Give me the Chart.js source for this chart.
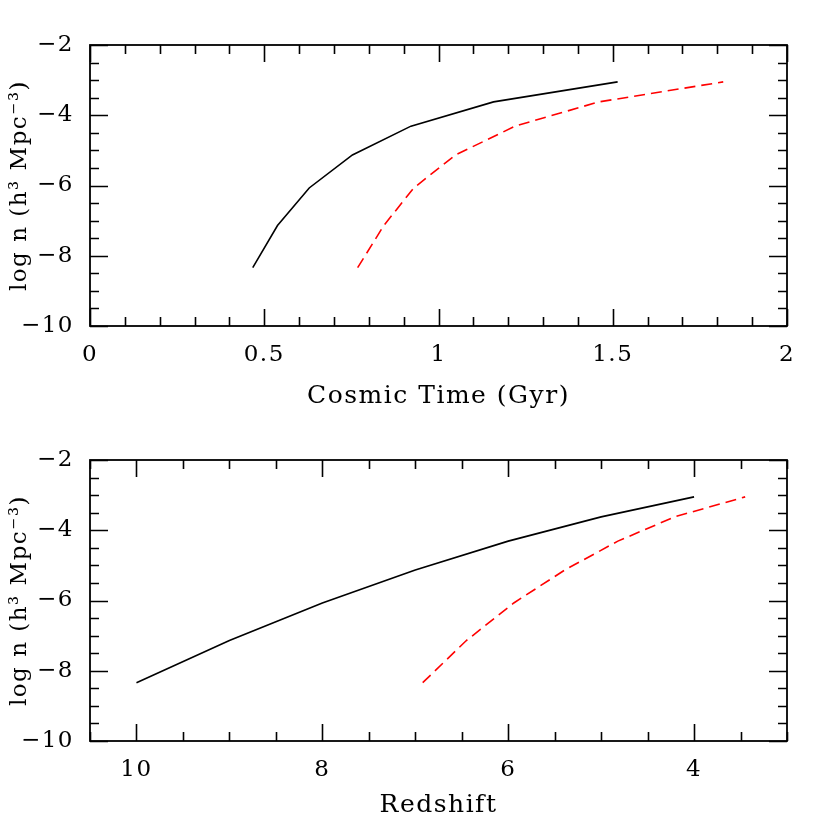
<!DOCTYPE html>
<html>
<head>
<meta charset="utf-8">
<script src="https://cdn.jsdelivr.net/npm/chart.js@4"></script>
<style>
  html, body { margin: 0; padding: 0; background: #fff; }
  .panel { position: absolute; left: 0; width: 830px; height: 415px; }
  #topPanel { top: 0; }
  #bottomPanel { top: 415px; }
</style>
</head>
<body>
<div class="panel" id="topPanel"><canvas id="timeChart" width="830" height="415"></canvas></div>
<div class="panel" id="bottomPanel"><canvas id="redshiftChart" width="830" height="415"></canvas></div>
<script>
// solid black curve
const redshiftSolid = [10, 9, 8, 7, 6, 5, 4];
const timeSolid = [0.467, 0.538, 0.629, 0.753, 0.921, 1.158, 1.514];
const logNSolid = [-8.34, -7.14, -6.07, -5.13, -4.31, -3.62, -3.05];

// dashed red curve
const redshiftDashed = [6.92, 6.45, 5.94, 5.39, 4.82, 4.21, 3.45];
const timeDashed = [0.768, 0.843, 0.929, 1.049, 1.22, 1.46, 1.817];
const logNDashed = [-8.34, -7.14, -6.07, -5.13, -4.31, -3.62, -3.05];

// axis ticks
const timeTicks = [0, 0.5, 1, 1.5, 2];
const redshiftTicks = [10, 8, 6, 4];
const logNTicks = [-10, -8, -6, -4, -2];

const FONT = "'DejaVu Serif', 'Liberation Serif', serif";

document.addEventListener('DOMContentLoaded', () => {
  makePanel('timeChart', {
    xs: [timeSolid, timeDashed],
    xMin: 0, xMax: 2, reverse: false,
    xTicks: timeTicks, xMinor: 0.1,
    xTitle: 'Cosmic Time (Gyr)', xTitlePad: 4
  });
  makePanel('redshiftChart', {
    xs: [redshiftSolid, redshiftDashed],
    xMin: 3, xMax: 10.5, reverse: true,
    xTicks: redshiftTicks, xMinor: 0.5,
    xTitle: 'Redshift', xTitlePad: 10
  });
});

const fmt = (v) => String(v).replace('-', '\u2212');

// the reference lettering is spaced wider than DejaVu
const wideText = {
  id: 'wideText',
  beforeDraw(chart) {
    chart.ctx.letterSpacing = '1.5px';
  }
};

// box frame with inward ticks on all four sides
const frameTicks = {
  id: 'frameTicks',
  afterDraw(chart, args, opts) {
    const { ctx, chartArea: a, scales: { x, y } } = chart;
    ctx.save();
    ctx.strokeStyle = '#000';
    ctx.lineWidth = 1.6;
    ctx.beginPath();

    const lo = Math.min(x.min, x.max), hi = Math.max(x.min, x.max);
    for (let i = Math.ceil(lo / opts.xMinor - 1e-6); i * opts.xMinor <= hi + 1e-6; i++) {
      const v = i * opts.xMinor;
      const major = opts.xTicks.some(t => Math.abs(t - v) < 1e-6);
      const len = major ? 17 : 9;
      const px = Math.round(x.getPixelForValue(v)) + 0.5;
      ctx.moveTo(px, a.bottom); ctx.lineTo(px, a.bottom - len);
      ctx.moveTo(px, a.top); ctx.lineTo(px, a.top + len);
    }
    for (let i = Math.ceil(y.min / 0.5 - 1e-6); i * 0.5 <= y.max + 1e-6; i++) {
      const v = i * 0.5;
      const major = logNTicks.some(t => Math.abs(t - v) < 1e-6);
      const len = major ? 18 : 9;
      const py = Math.round(y.getPixelForValue(v)) + 0.5;
      ctx.moveTo(a.left, py); ctx.lineTo(a.left + len, py);
      ctx.moveTo(a.right, py); ctx.lineTo(a.right - len, py);
    }
    ctx.stroke();
    ctx.lineWidth = 1.8;
    ctx.strokeRect(a.left, a.top, a.right - a.left, a.bottom - a.top);
    ctx.restore();
  }
};

function makePanel(id, cfg) {
  const ctx = document.getElementById(id);
  const [xSolid, xDashed] = cfg.xs;

  new Chart(ctx, {
    type: 'line',
    data: {
      datasets: [
        {
          data: xSolid.map((v, i) => ({ x: v, y: logNSolid[i] })),
          borderColor: '#000000',
          borderWidth: 1.6,
          fill: false
        },
        {
          data: xDashed.map((v, i) => ({ x: v, y: logNDashed[i] })),
          borderColor: '#ff0000',
          borderWidth: 1.6,
          borderDash: [11, 6],
          fill: false
        }
      ]
    },
    options: {
      responsive: false,
      animation: false,
      layout: { padding: { top: 45, right: 43, left: 0, bottom: 0 } },
      elements: { point: { radius: 0 }, line: { tension: 0 } },
      plugins: {
        legend: { display: false },
        tooltip: { enabled: false },
        frameTicks: { xTicks: cfg.xTicks, xMinor: cfg.xMinor }
      },
      scales: {
        x: {
          type: 'linear',
          min: cfg.xMin,
          max: cfg.xMax,
          reverse: cfg.reverse,
          grid: { display: false, drawTicks: false },
          border: { display: false },
          afterBuildTicks: (s) => { s.ticks = cfg.xTicks.map(v => ({ value: v })); },
          afterFit: (s) => { s.height = 89; },
          ticks: {
            padding: 15,
            autoSkip: false,
            maxRotation: 0,
            color: '#000',
            font: { family: FONT, size: 23 },
            callback: fmt
          },
          title: {
            display: true,
            text: cfg.xTitle,
            color: '#000',
            font: { family: FONT, size: 25 },
            padding: { top: 0, bottom: cfg.xTitlePad }
          }
        },
        y: {
          type: 'linear',
          min: -10,
          max: -2,
          grid: { display: false, drawTicks: false },
          border: { display: false },
          afterBuildTicks: (s) => { s.ticks = logNTicks.map(v => ({ value: v })); },
          afterFit: (s) => { s.width = 90; },
          ticks: {
            padding: 16,
            color: '#000',
            font: { family: FONT, size: 23 },
            callback: fmt
          },
          title: {
            display: true,
            text: 'log n (h\u00b3 Mpc\u207b\u00b3)',
            color: '#000',
            font: { family: FONT, size: 23 },
            padding: { top: 6, bottom: 0 }
          }
        }
      }
    },
    plugins: [wideText, frameTicks]
  });
}
</script>
</body>
</html>
